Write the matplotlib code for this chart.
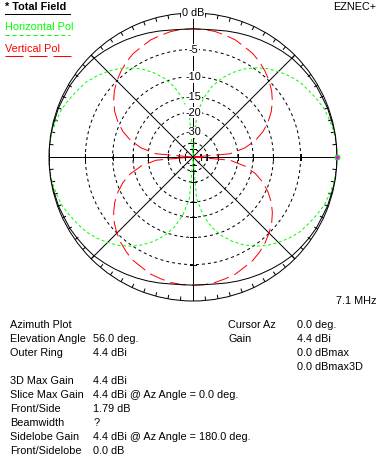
import numpy as np
import matplotlib
matplotlib.use("Agg")
import matplotlib.pyplot as plt
from matplotlib.lines import Line2D
from matplotlib.transforms import offset_copy

plt.rcParams["font.family"] = ["Liberation Sans", "DejaVu Sans"]
plt.rcParams["lines.scale_dashes"] = False

W, H = 379, 457
PX = 0.72  # 1 px in points at dpi 100
FS = 7.8

# ---- pattern data (dB relative to max, 5 deg steps) ----
AZIMUTH_DEG = list(range(0, 360, 5))

TOTAL_DB = [
    0, 0, 0, -0.1, -0.1, -0.2, -0.2, -0.3, -0.4, -0.5, -0.7, -0.9, -1.1, -1.3, -1.5, -1.7, -1.9, -2.0,
    -2.0,
    -2.0, -1.9, -1.7, -1.5, -1.3, -1.1, -0.9, -0.7, -0.5, -0.4, -0.3, -0.2, -0.2, -0.1, -0.1, 0, 0,
    0,
    0, 0, -0.1, -0.1, -0.2, -0.2, -0.3, -0.4, -0.5, -0.7, -0.9, -1.1, -1.3, -1.5, -1.7, -1.9, -2.0,
    -2.0,
    -2.0, -1.9, -1.7, -1.5, -1.3, -1.1, -0.9, -0.7, -0.5, -0.4, -0.3, -0.2, -0.2, -0.1, -0.1, 0, 0,
]

HORIZ_DB = [
    0, 0, -0.1, -0.3, -0.5, -0.9, -1.3, -1.7, -2.3, -3.0, -3.8, -4.8, -6.0, -7.5, -9.3, -11.7, -15.2, -21.2,
    -80,
    -21.2, -15.2, -11.7, -9.3, -7.5, -6.0, -4.8, -3.8, -3.0, -2.3, -1.7, -1.3, -0.9, -0.5, -0.3, -0.1, 0,
    0,
    0, -0.1, -0.3, -0.5, -0.9, -1.3, -1.7, -2.3, -3.0, -3.8, -4.8, -6.0, -7.5, -9.3, -11.7, -15.2, -21.2,
    -80,
    -21.2, -15.2, -11.7, -9.3, -7.5, -6.0, -4.8, -3.8, -3.0, -2.3, -1.7, -1.3, -0.9, -0.5, -0.3, -0.1, 0,
]

VERT_DB = [
    -80, -23.2, -17.2, -13.7, -11.3, -9.5, -8.0, -6.8, -5.8, -5.0, -4.3, -3.7, -3.2, -2.9, -2.5, -2.3, -2.1, -2.0,
    -2.0,
    -2.0, -2.1, -2.3, -2.5, -2.9, -3.2, -3.7, -4.3, -5.0, -5.8, -6.8, -8.0, -9.5, -11.3, -13.7, -17.2, -23.2,
    -80,
    -23.2, -17.2, -13.7, -11.3, -9.5, -8.0, -6.8, -5.8, -5.0, -4.3, -3.7, -3.2, -2.9, -2.5, -2.3, -2.1, -2.0,
    -2.0,
    -2.0, -2.1, -2.3, -2.5, -2.9, -3.2, -3.7, -4.3, -5.0, -5.8, -6.8, -8.0, -9.5, -11.3, -13.7, -17.2, -23.2,
]

RING_DB = [-5, -10, -15, -20, -30, -40, -50]
RING_LABELS = ["-5", "-10", "-15", "-20", "-30", "", ""]

LEFT_LABELS = ["Azimuth Plot", "Elevation Angle", "Outer Ring", "",
               "3D Max Gain", "Slice Max Gain", "Front/Side", "Beamwidth",
               "Sidelobe Gain", "Front/Sidelobe"]
LEFT_VALUES = ["", "56.0 deg.", "4.4 dBi", "",
               "4.4 dBi", "4.4 dBi @ Az Angle = 0.0 deg.", "1.79 dB", "?",
               "4.4 dBi @ Az Angle = 180.0 deg.", "0.0 dB"]
RIGHT_LABELS = ["Cursor Az", "Gain", "", ""]
RIGHT_VALUES = ["0.0 deg.", "4.4 dBi", "0.0 dBmax", "0.0 dBmax3D"]


def arrl(db):
    # ARRL log scale: factor 0.89 for each 2 dB
    return 0.89 ** (-np.asarray(db, dtype=float) / 2.0)


def closed(vals):
    v = list(vals)
    return np.array(v + v[:1])


def fx(x):
    return x / W


def fy(y):
    return 1 - y / H


fig = plt.figure(figsize=(W / 100, H / 100), dpi=100)
fig.patch.set_facecolor("white")

cx, cy, R = 193, 157, 144
ax = fig.add_axes([fx(cx - R), fy(cy + R), 2 * R / W, 2 * R / H], projection="polar")
ax.set_ylim(0, 1)
ax.set_xticks([])
ax.set_yticks([])
ax.grid(False)
ax.spines["polar"].set_linewidth(PX)
ax.spines["polar"].set_color("black")

circ = np.linspace(0, 2 * np.pi, 361)
for db in RING_DB:
    ax.plot(circ, np.full_like(circ, arrl(db)), color="black", lw=PX,
            ls=(0, (3 * PX, 3 * PX)))

for a in range(0, 360, 45):
    ax.plot([np.radians(a)] * 2, [0, 1], color="black", lw=PX)

# ticks on outer ring every 5 deg
for a in range(0, 360, 5):
    ax.plot([np.radians(a)] * 2, [1 - 3.5 / R, 1], color="black", lw=PX)

# ticks on the main axes at ring radii
d = 3.0 / R
for a in [0, 90, 180, 270]:
    ar = np.radians(a)
    for db in [0] + RING_DB:
        r = arrl(db)
        px0, py0 = r * np.cos(ar), r * np.sin(ar)
        nx, ny = -np.sin(ar) * d, np.cos(ar) * d
        xs = np.array([px0 - nx, px0 + nx])
        ys = np.array([py0 - ny, py0 + ny])
        ax.plot(np.arctan2(ys, xs), np.hypot(xs, ys), color="black", lw=PX)

th = np.radians(closed(AZIMUTH_DEG))
ax.plot(th, arrl(closed(VERT_DB)), color="#ff0000", lw=PX,
        ls=(0, (16 * PX, 6 * PX)))
ax.plot(th, arrl(closed(HORIZ_DB)), color="#00ff00", lw=PX,
        ls=(0, (3 * PX, 2.5 * PX)))
ax.plot(th, arrl(closed(TOTAL_DB)), color="black", lw=PX)
ax.plot([0], [arrl(TOTAL_DB[0])], marker="o", ms=5 * PX, mfc="#ff00ff",
        mec="#00ff00", mew=PX, clip_on=False, zorder=5)

# ring labels
lbl_tr = offset_copy(ax.transData, fig=fig, x=0, y=-3.5, units="dots")
bb = dict(facecolor="white", edgecolor="none", pad=0.6)
ax.text(np.pi / 2, 1.0, "0 dB", transform=lbl_tr, ha="center", va="baseline",
        fontsize=FS, bbox=bb, clip_on=False, zorder=6)
for db, lab in zip(RING_DB, RING_LABELS):
    if lab:
        ax.text(np.pi / 2, arrl(db), lab, transform=lbl_tr, ha="center",
                va="baseline", fontsize=FS, bbox=bb, zorder=6)

# legend
fig.text(fx(5), fy(9.5), "* Total Field", fontsize=FS, fontweight="bold",
         color="black", va="baseline")
fig.add_artist(Line2D([fx(5), fx(70)], [fy(14)] * 2, transform=fig.transFigure,
                      color="black", lw=PX))
fig.text(fx(5), fy(30.5), "Horizontal Pol", fontsize=FS, color="#00ff00",
         va="baseline")
fig.add_artist(Line2D([fx(5), fx(70)], [fy(35)] * 2, transform=fig.transFigure,
                      color="#00ff00", lw=PX, ls=(0, (4 * PX, 3 * PX))))
fig.text(fx(5), fy(51.5), "Vertical Pol", fontsize=FS, color="#ff0000",
         va="baseline")
fig.add_artist(Line2D([fx(5), fx(71)], [fy(56)] * 2, transform=fig.transFigure,
                      color="#ff0000", lw=PX, ls=(0, (18 * PX, 6 * PX))))

fig.text(fx(376), fy(9.5), "EZNEC+", fontsize=FS, ha="right", va="baseline")
fig.text(fx(376), fy(304), "7.1 MHz", fontsize=FS, ha="right", va="baseline")

# info block
base = 328.5
for i, (lab, val) in enumerate(zip(LEFT_LABELS, LEFT_VALUES)):
    y = fy(base + 14 * i)
    if lab:
        fig.text(fx(10), y, lab, fontsize=FS, va="baseline")
    if val:
        fig.text(fx(93), y, val, fontsize=FS, va="baseline")
for i, (lab, val) in enumerate(zip(RIGHT_LABELS, RIGHT_VALUES)):
    y = fy(base + 14 * i)
    if lab:
        fig.text(fx(228), y, lab, fontsize=FS, va="baseline")
    fig.text(fx(297), y, val, fontsize=FS, va="baseline")

fig.savefig("out.png", dpi=100, facecolor="white")
